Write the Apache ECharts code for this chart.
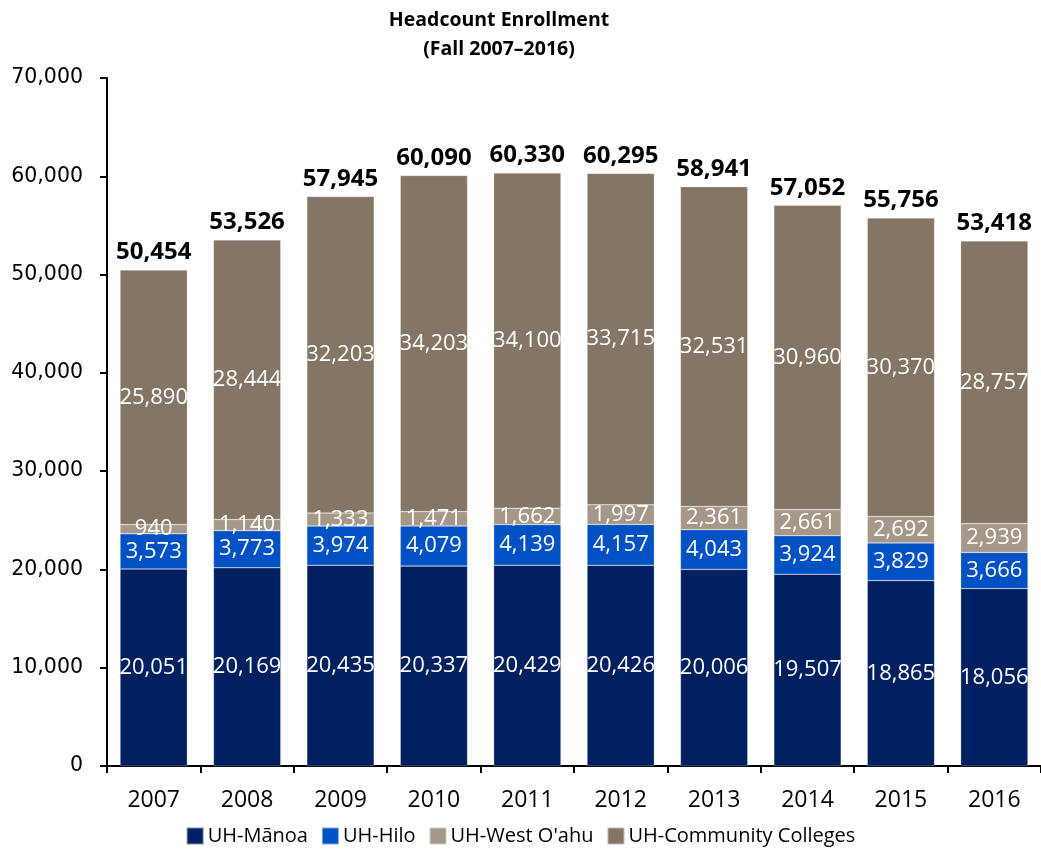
<!DOCTYPE html>
<html>
<head>
<meta charset="utf-8">
<script src="https://cdn.jsdelivr.net/npm/echarts@6/dist/echarts.min.js"></script>
<style>html,body{margin:0;padding:0;background:#fff}#c{width:1041px;height:851px}</style>
</head>
<body>
<div id="c"></div>
<script>
const years = ['2007','2008','2009','2010','2011','2012','2013','2014','2015','2016'];
const manoa = [20051,20169,20435,20337,20429,20426,20006,19507,18865,18056];
const hilo = [3573,3773,3974,4079,4139,4157,4043,3924,3829,3666];
const westOahu = [940,1140,1333,1471,1662,1997,2361,2661,2692,2939];
const communityColleges = [25890,28444,32203,34203,34100,33715,32531,30960,30370,28757];
const totals = [50454,53526,57945,60090,60330,60295,58941,57052,55756,53418];
const yTicks = [0,10000,20000,30000,40000,50000,60000,70000];

const fmt = v => Number(v).toLocaleString('en-US');
const insideLabel = {
  show: true, position: 'inside', color: '#fff',
  fontFamily: 'Open Sans', fontSize: 22,
  formatter: p => fmt(p.value)
};
function barSeries(name, data, color) {
  return {
    name, type: 'bar', stack: 'total', data,
    barCategoryGap: '28%',
    itemStyle: { color, borderColor: 'rgba(255,255,255,0.5)', borderWidth: 0.5 },
    label: insideLabel
  };
}
const chart = echarts.init(document.getElementById('c'));
chart.setOption({
  animation: false,
  title: {
    text: 'Headcount Enrollment\n(Fall 2007\u20132016)',
    left: 494, top: 1, textAlign: 'center',
    textStyle: { fontFamily: 'Open Sans', fontWeight: 'bold', fontSize: 19.5, lineHeight: 29, color: '#000' }
  },
  grid: { left: 107, right: -8, top: 78, bottom: 85, containLabel: false },
  legend: {
    data: ['UH-M\u0101noa','UH-Hilo',"UH-West O'ahu",'UH-Community Colleges'],
    bottom: 0, left: 'center',
    itemWidth: 17, itemHeight: 17, itemGap: 13,
    icon: 'rect',
    textStyle: { fontFamily: 'Open Sans', fontSize: 20, color: '#000', padding: [0,0,0,-1] }
  },
  xAxis: {
    type: 'category', data: years,
    axisLine: { lineStyle: { color: '#000', width: 2 } },
    axisTick: { show: true, length: 7, lineStyle: { color: '#000', width: 2 } },
    axisLabel: { fontFamily: 'Open Sans', fontSize: 23, color: '#000', margin: 23 }
  },
  yAxis: {
    type: 'value', min: 0, max: 70000, interval: 10000,
    axisLine: { show: true, lineStyle: { color: '#000', width: 2 } },
    axisTick: { show: true, length: 7, lineStyle: { color: '#000', width: 2 } },
    splitLine: { show: false },
    axisLabel: { fontFamily: 'DejaVu Sans', fontSize: 20.5, color: '#000', margin: 24,
      formatter: v => yTicks.includes(v) ? fmt(v) : '' }
  },
  series: [
    barSeries('UH-M\u0101noa', manoa, '#002060'),
    barSeries('UH-Hilo', hilo, '#0052C4'),
    barSeries("UH-West O'ahu", westOahu, '#A69888'),
    barSeries('UH-Community Colleges', communityColleges, '#847565'),
    {
      name: 'Total', type: 'line', data: totals,
      symbol: 'circle', symbolSize: 1,
      itemStyle: { color: 'rgba(0,0,0,0)' },
      lineStyle: { opacity: 0 },
      silent: true,
      label: { show: true, position: 'top', distance: 5, color: '#000',
        fontFamily: 'Open Sans', fontWeight: 'bold', fontSize: 24,
        formatter: p => fmt(p.value) }
    }
  ]
});
</script>
</body>
</html>
